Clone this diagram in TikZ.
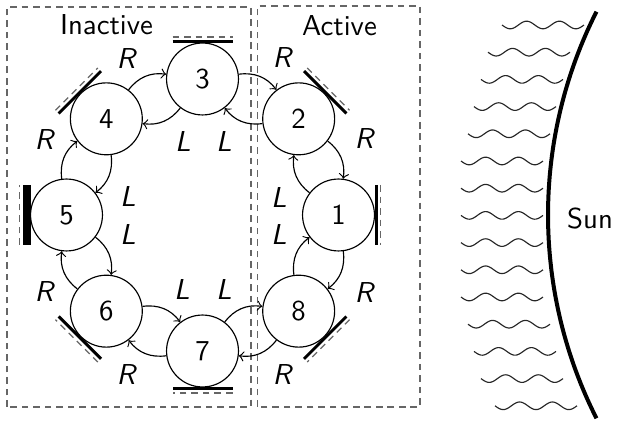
\documentclass[tikz,border=0pt]{standalone}
\usetikzlibrary{calc}
\begin{document}
\begin{tikzpicture}[x=0.0122cm,y=0.0122cm,
  st/.style={circle,draw,line width=0.4pt,minimum size=0.878cm,inner sep=0pt,font=\sffamily},
  lab/.style={inner sep=0pt,font=\sffamily\itshape},
  ttl/.style={inner sep=0pt,font=\sffamily},
  arr/.style={->,line width=0.4pt},
  boxdash/.style={draw=black!60,line width=0.4pt,dash pattern=on 2.3pt off 1.7pt},
  paneldash/.style={draw=black!60,line width=0.4pt,dash pattern=on 2.3pt off 1.7pt},
  wave/.style={line width=0.4pt,black!85}]
\useasboundingbox (0,0) rectangle (628,427);
% frames
\draw[boxdash] (7,20) rectangle (251,420);
\draw[boxdash] (257.5,20) rectangle (420,421);
\node[ttl] (tin) at (106.5,402) {Inactive};
\node[ttl] (tac) at (339.5,401.5) {Active};
% states
\coordinate (C) at (202.5,212);
\node[st] (n1) at ([shift={(0:136)}]C) {1};
\node[st] (n2) at ([shift={(45:136)}]C) {2};
\node[st] (n3) at ([shift={(90:136)}]C) {3};
\node[st] (n4) at ([shift={(135:136)}]C) {4};
\node[st] (n5) at ([shift={(180:136)}]C) {5};
\node[st] (n6) at ([shift={(225:136)}]C) {6};
\node[st] (n7) at ([shift={(270:136)}]C) {7};
\node[st] (n8) at ([shift={(315:136)}]C) {8};
% panels
\foreach \i/\a/\w in {1/0/3,2/45/3,3/90/3,4/135/3,5/180/8,6/225/3,7/270/3,8/315/3}{
  \draw[line width=\w*0.0122cm] ($(n\i)+(\a:{36+\w/2})+(\a+90:30)$) -- ($(n\i)+(\a:{36+\w/2})+(\a-90:30)$);
  \draw[paneldash] ($(n\i)+(\a:{39+\w})+(\a+90:30)$) -- ($(n\i)+(\a:{39+\w})+(\a-90:30)$);
}
% outer (R) transitions
\draw[arr] (n4) to[bend left] (n3);
\draw[arr] (n3) to[bend left] (n2);
\draw[arr] (n2) to[bend left] (n1);
\draw[arr] (n1) to[bend left] (n8);
\draw[arr] (n8) to[bend left] (n7);
\draw[arr] (n7) to[bend left] (n6);
\draw[arr] (n6) to[bend left] (n5);
\draw[arr] (n5) to[bend left] (n4);
% inner (L) transitions
\draw[arr] (n3) to[bend left] (n4);
\draw[arr] (n2) to[bend left] (n3);
\draw[arr] (n1) to[bend left] (n2);
\draw[arr] (n8) to[bend left] (n1);
\draw[arr] (n7) to[bend left] (n8);
\draw[arr] (n6) to[bend left] (n7);
\draw[arr] (n5) to[bend left] (n6);
\draw[arr] (n4) to[bend left] (n5);
% labels
\node[lab] (r43) at (126,368) {R};
\node[lab] (r32) at (282,369) {R};
\node[lab] (r21) at (364,288) {R};
\node[lab] (r18) at (364,134) {R};
\node[lab] (r87) at (282,52) {R};
\node[lab] (r76) at (126,52) {R};
\node[lab] (r65) at (44,135) {R};
\node[lab] (r54) at (44,287) {R};
\node[lab] (l34) at (183,285) {L};
\node[lab] (l23) at (224,285) {L};
\node[lab] (l12) at (279,229) {L};
\node[lab] (l81) at (279,192) {L};
\node[lab] (l78) at (224,137) {L};
\node[lab] (l67) at (182,137) {L};
\node[lab] (l56) at (128,192) {L};
\node[lab] (l45) at (128,230) {L};
% sun
\draw[line width=1.39pt] plot[domain=-26.8:26.8,samples=80] ({999-451*cos(\x)},{212-451*sin(\x)});
\node[ttl] (sun) at (590,208.5) {Sun};
% waves
\foreach \k/\s in {0/502,1/488,2/481,3/474,4/468,5/461,6/461,7/461,8/461,9/461,10/461,11/468,12/474,13/481,14/495}{
  \draw[wave] plot[domain=0:2.5,samples=60,smooth] ({\s+32.8*\x},{402-27.2*\k-3.8*sin(360*\x)});
}
\end{tikzpicture}
\end{document}
